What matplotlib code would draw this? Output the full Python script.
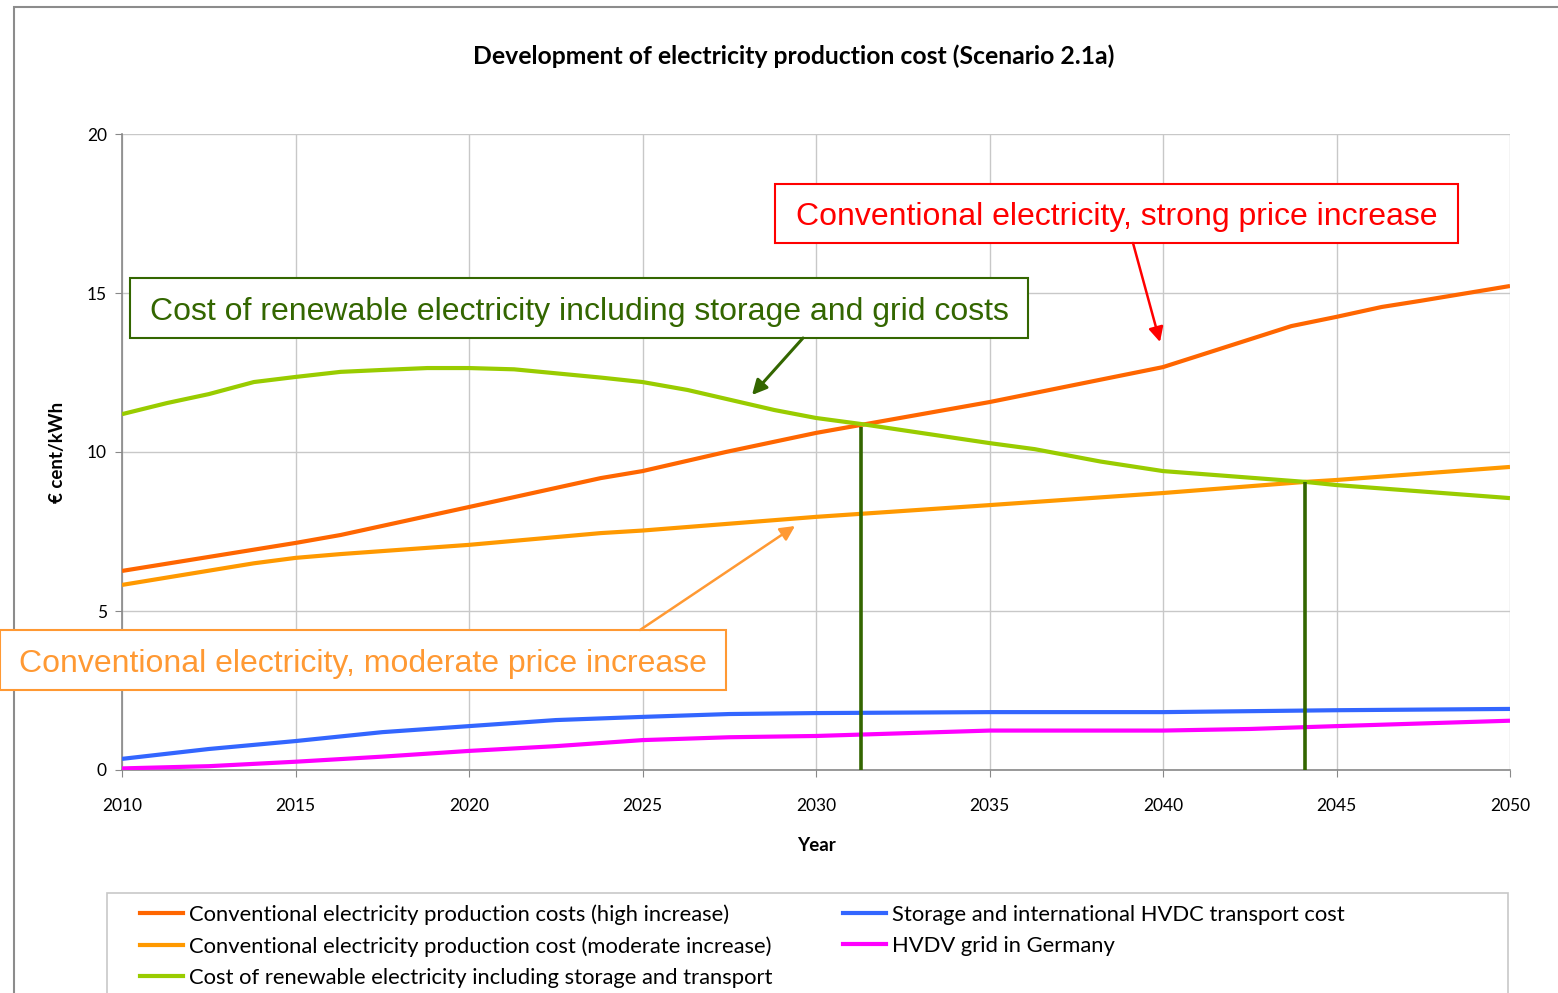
import matplotlib
matplotlib.use("Agg")
import matplotlib.pyplot as plt
from matplotlib.patches import Rectangle, FancyArrowPatch
from matplotlib.lines import Line2D

W, H = 1558, 993

# data
high_years = [2010, 2015, 2016.3, 2020, 2023.8, 2025, 2027.4, 2030, 2035, 2040, 2043.7, 2045, 2046.3, 2047.4, 2050]
high_vals = [6.26, 7.14, 7.39, 8.27, 9.18, 9.40, 10.0, 10.6, 11.57, 12.67, 13.96, 14.25, 14.56, 14.75, 15.22]

mod_years = [2010, 2013.8, 2015, 2016.3, 2020, 2023.8, 2025, 2030, 2035, 2040, 2044.1, 2045, 2050]
mod_vals = [5.82, 6.50, 6.67, 6.79, 7.08, 7.45, 7.53, 7.96, 8.33, 8.71, 9.06, 9.12, 9.53]

ren_years = [2010, 2011.3, 2012.5, 2013.8, 2015, 2016.3, 2017.5, 2018.8, 2020, 2021.3, 2023.8, 2025,
             2026.3, 2028.8, 2030, 2031.3, 2035, 2036.3, 2038.2, 2040, 2044.1, 2045, 2050]
ren_vals = [11.19, 11.54, 11.82, 12.20, 12.36, 12.52, 12.58, 12.64, 12.64, 12.60, 12.34, 12.20,
            11.95, 11.32, 11.07, 10.88, 10.28, 10.09, 9.70, 9.40, 9.06, 8.96, 8.55]

hvdc_years = [2010, 2012.5, 2015, 2017.5, 2020, 2022.5, 2025, 2027.5, 2030, 2035, 2040, 2045, 2050]
hvdc_vals = [0.35, 0.66, 0.91, 1.19, 1.38, 1.57, 1.67, 1.76, 1.79, 1.82, 1.82, 1.88, 1.92]

grid_years = [2010, 2012.5, 2015, 2017.5, 2020, 2022.5, 2025, 2027.5, 2030, 2035, 2040, 2042.5, 2045, 2050]
grid_vals = [0.05, 0.12, 0.26, 0.42, 0.60, 0.75, 0.94, 1.03, 1.07, 1.24, 1.24, 1.29, 1.38, 1.55]

# break-even points (renewable crosses conventional)
cross_years = [2031.3, 2044.1]
cross_vals = [10.8, 9.05]

labels = [
    "Conventional electricity production costs (high increase)",
    "Conventional electricity production cost (moderate increase)",
    "Cost of renewable electricity including storage and transport",
    "Storage and international HVDC transport cost",
    "HVDV grid in Germany",
]
colors = ["#FF6600", "#FF9900", "#99CC00", "#3366FF", "#FF00FF"]
series = [(high_years, high_vals), (mod_years, mod_vals), (ren_years, ren_vals),
          (hvdc_years, hvdc_vals), (grid_years, grid_vals)]

plt.rcParams["font.family"] = ["Lato", "DejaVu Sans"]


def fx(x):
    return x / W


def fy(y):
    return 1 - y / H


fig = plt.figure(figsize=(W / 100, H / 100), dpi=100, facecolor="white")

# plot area
ax = fig.add_axes([fx(122), fy(770), fx(1510) - fx(122), fy(134) - fy(770)])
for (xs, ys), c, lab in zip(series, colors, labels):
    ax.plot(xs, ys, color=c, lw=3, label=lab, solid_capstyle="butt", zorder=3)
ax.vlines(cross_years, 0, cross_vals, color="#336600", lw=2.6, zorder=4)

ax.set_xlim(2010, 2050)
ax.set_ylim(0, 20)
ax.set_xticks(range(2010, 2051, 5))
ax.set_yticks(range(0, 21, 5))
ax.grid(True, color="#C8C8C8", lw=1)
ax.set_axisbelow(True)
for s in ["top", "right"]:
    ax.spines[s].set_visible(False)
for s in ["left", "bottom"]:
    ax.spines[s].set_color("#888888")
    ax.spines[s].set_linewidth(1.2)
ax.tick_params(axis="x", length=5, pad=15.5, color="#888888", labelsize=12.5)
ax.tick_params(axis="y", length=5, pad=6, color="#888888", labelsize=12.5)
ax.set_xlabel("Year", fontsize=13.5, fontweight="bold", labelpad=16.5)
ax.set_ylabel("€ cent/kWh", fontsize=13.5, fontweight="bold", labelpad=15)

fig.text(fx(794), fy(56), "Development of electricity production cost (Scenario 2.1a)",
         ha="center", va="center", fontsize=17.8, fontweight="bold")

# outer chart frame
fig.add_artist(Rectangle((fx(14), fy(1100)), fx(1700), fy(7) - fy(1100), transform=fig.transFigure,
                         fill=False, edgecolor="#8C8C8C", lw=1.5, zorder=0.5))


def callout(x0, y0, x1, y1, text, color, edge):
    fig.add_artist(Rectangle((fx(x0), fy(y1)), fx(x1) - fx(x0), fy(y0) - fy(y1),
                             transform=fig.transFigure, facecolor="white",
                             edgecolor=edge, lw=1.5, zorder=5))
    fig.text(fx((x0 + x1) / 2), fy((y0 + y1) / 2 + 4), text, ha="center", va="center",
             color=color, fontsize=23, family="Liberation Sans", zorder=6)


def arrow(x0, y0, x1, y1, color, lw):
    fig.add_artist(FancyArrowPatch((fx(x0), fy(y0)), (fx(x1), fy(y1)), transform=fig.transFigure,
                                   arrowstyle="-|>", mutation_scale=22, color=color, lw=lw,
                                   shrinkA=0, shrinkB=0, zorder=6))


callout(775, 184, 1458, 243, "Conventional electricity, strong price increase", "#FF0000", "#FF0000")
arrow(1133, 243, 1160, 342, "#FF0000", 1.8)

callout(130, 278, 1028, 338, "Cost of renewable electricity including storage and grid costs",
        "#336600", "#336600")
arrow(803, 338, 752, 395, "#336600", 2.2)

callout(0, 630, 726, 690, "Conventional electricity, moderate price increase", "#FF9933", "#FF9933")
arrow(640, 630, 795, 526, "#FF9933", 1.8)

# legend
fig.add_artist(Rectangle((fx(107), fy(1050)), fx(1508) - fx(107), fy(893) - fy(1050),
                         transform=fig.transFigure, fill=False, edgecolor="#C8C8C8", lw=1.2, zorder=5))
handles = [Line2D([], [], color=c, lw=3) for c in colors]
fig.legend(handles, labels, loc="upper left", bbox_to_anchor=(fx(140), fy(904)), ncol=2,
           frameon=False, fontsize=15.8, handlelength=1.95, handletextpad=0.3, columnspacing=3.2,
           labelspacing=0.52, borderpad=0, borderaxespad=0)

fig.savefig("out.png", dpi=100, facecolor="white")
